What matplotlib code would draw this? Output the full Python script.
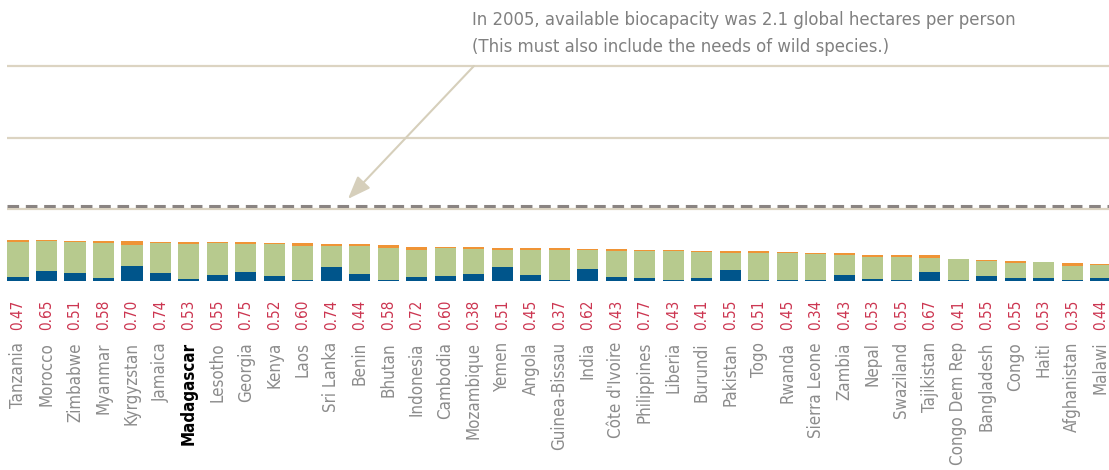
import matplotlib.pyplot as plt
import matplotlib.transforms as mtransforms
import numpy as np

countries = ['Tanzania', 'Morocco', 'Zimbabwe', 'Myanmar', 'Kyrgyzstan', 'Jamaica', 'Madagascar',
             'Lesotho', 'Georgia', 'Kenya', 'Laos', 'Sri Lanka', 'Benin', 'Bhutan', 'Indonesia',
             'Cambodia', 'Mozambique', 'Yemen', 'Angola', 'Guinea-Bissau', 'India', "Côte d'Ivoire",
             'Philippines', 'Liberia', 'Burundi', 'Pakistan', 'Togo', 'Rwanda', 'Sierra Leone',
             'Zambia', 'Nepal', 'Swaziland', 'Tajikistan', 'Congo Dem Rep', 'Bangladesh', 'Congo',
             'Haiti', 'Afghanistan', 'Malawi']
hdi = ['0.47', '0.65', '0.51', '0.58', '0.70', '0.74', '0.53', '0.55', '0.75', '0.52', '0.60',
       '0.74', '0.44', '0.58', '0.72', '0.60', '0.38', '0.51', '0.45', '0.37', '0.62', '0.43',
       '0.77', '0.43', '0.41', '0.55', '0.51', '0.45', '0.34', '0.43', '0.53', '0.55', '0.67',
       '0.41', '0.55', '0.55', '0.53', '0.35', '0.44']
# footprint parts (global hectares per person)
carbon = [0.11, 0.28, 0.22, 0.08, 0.42, 0.22, 0.06, 0.17, 0.25, 0.14, 0.015, 0.39, 0.19,
          0.015, 0.11, 0.14, 0.19, 0.39, 0.17, 0.015, 0.33, 0.11, 0.08, 0.015, 0.08, 0.31,
          0.03, 0.03, 0.015, 0.17, 0.06, 0.015, 0.25, 0.03, 0.14, 0.08, 0.08, 0.015, 0.08]
land = [0.97, 0.83, 0.87, 0.97, 0.58, 0.83, 0.97, 0.89, 0.78, 0.90, 0.96, 0.58, 0.78,
        0.90, 0.75, 0.79, 0.69, 0.47, 0.69, 0.85, 0.53, 0.72, 0.75, 0.82, 0.72, 0.47,
        0.75, 0.75, 0.74, 0.56, 0.61, 0.65, 0.39, 0.58, 0.42, 0.42, 0.45, 0.40, 0.36]
built = [0.055, 0.03, 0.02, 0.055, 0.11, 0.03, 0.055, 0.03, 0.055, 0.02, 0.08, 0.055, 0.055,
         0.08, 0.08, 0.02, 0.055, 0.055, 0.055, 0.055, 0.03, 0.055, 0.03, 0.03, 0.03, 0.055,
         0.055, 0.03, 0.02, 0.055, 0.055, 0.055, 0.08, 0.0, 0.03, 0.055, 0.0, 0.08, 0.03]
biocapacity = 2.1

W, H = 1109, 470
fig = plt.figure(figsize=(W / 100, H / 100), dpi=100)
ax = fig.add_axes([7 / W, 189 / H, 1102 / W, 6.5 * 35.83 / H])

x = np.arange(len(countries))
carbon = np.array(carbon)
land = np.array(land)
ax.bar(x, carbon, width=0.74, color='#00558b', zorder=3)
ax.bar(x, land, width=0.74, bottom=carbon, color='#b7ca8e', zorder=3)
ax.bar(x, built, width=0.74, bottom=carbon + land, color='#ef9436', zorder=3)

for g in [2, 4, 6]:
    ax.axhline(g, color='#dcd4c2', lw=1.6, zorder=1)
ax.axhline(biocapacity, color='#8a8482', lw=2.2, dashes=(3.8, 2.2), zorder=2)

ax.set_xlim(-0.386, 38.29)
ax.set_ylim(0, 6.5)
ax.axis('off')

ax.annotate('', xy=(11.58, 2.29), xytext=(16.0, 6.0),
            arrowprops=dict(arrowstyle='-|>,head_length=1.0,head_width=0.38',
                            mutation_scale=14, color='#d6cfbb', lw=1.5,
                            shrinkA=0, shrinkB=0), zorder=4)

fnt = dict(family='DejaVu Sans', stretch='condensed')
fig.text(472 / W, 1 - 25 / H, 'In 2005, available biocapacity was 2.1 global hectares per person',
         fontsize=13.2, color='#808080', va='baseline', ha='left', **fnt)
fig.text(472 / W, 1 - 52 / H, '(This must also include the needs of wild species.)',
         fontsize=13.2, color='#808080', va='baseline', ha='left', **fnt)

trans = mtransforms.blended_transform_factory(ax.transData, fig.transFigure)
for i, (c, h) in enumerate(zip(countries, hdi)):
    ax.text(i, 1 - 300 / H, h, transform=trans, rotation=90, ha='center', va='top',
            fontsize=11, color='#cc3550', **fnt)
    if c == 'Madagascar':
        ax.text(i, 1 - 342 / H, c, transform=trans, rotation=90, ha='center', va='top',
                fontsize=12.2, color='black', weight='bold', **fnt)
    else:
        ax.text(i, 1 - 342 / H, c, transform=trans, rotation=90, ha='center', va='top',
                fontsize=12.2, color='#8c8c8c', **fnt)

fig.savefig('out.png', dpi=100, facecolor='white')
